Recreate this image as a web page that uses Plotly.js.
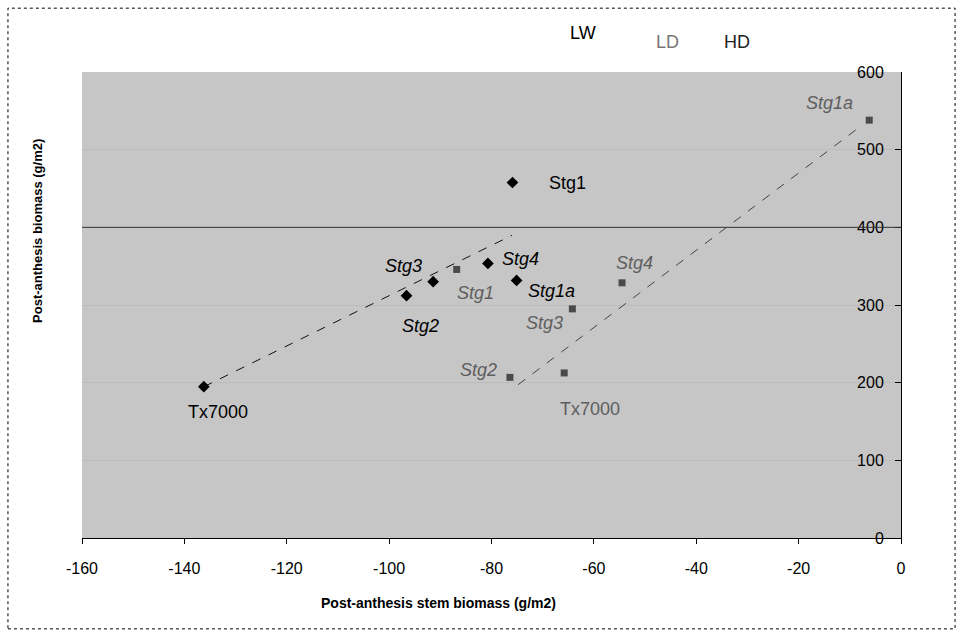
<!DOCTYPE html>
<html>
<head>
<meta charset="utf-8">
<script src="https://cdn.plot.ly/plotly-3.0.1.min.js"></script>
<style>html,body{margin:0;padding:0;background:#fff;}#chart{width:962px;height:637px;}</style>
</head>
<body>
<div id="chart"></div>
<script>
// ---- data ----
const lwLabels = ["Tx7000", "Stg2", "Stg3", "Stg4", "Stg1a", "Stg1"];
const lwX = [-136.2, -96.6, -91.4, -80.7, -75.1, -75.9];
const lwY = [194.8, 312, 330, 353.5, 331.6, 457.7];

const ldLabels = ["Stg1a", "Stg4", "Stg3", "Stg2", "Tx7000", "Stg1"];
const ldX = [-6.2, -54.5, -64.2, -76.4, -65.8, -86.8];
const ldY = [538, 328.6, 295, 206.8, 212.5, 345.8];

const lwTrendX = [-136.2, -76.0];
const lwTrendY = [194.8, 389.7];
const ldTrendX = [-74.8, -7.6];
const ldTrendY = [197.4, 531.6];

const seriesNames = ["LW", "LD", "HD"];
const xTicks = [-160, -140, -120, -100, -80, -60, -40, -20, 0];
const yTicks = [0, 100, 200, 300, 400, 500, 600];

// ---- label styling (pixel offsets from marker) ----
const lwOff = [[14, 25], [14, 30], [-30, -16], [33, -4], [35, 11], [55, 0]];
const lwItalic = [false, true, true, true, true, false];
const ldOff = [[-40, -17], [12, -20], [-28, 14], [-31, -7], [26, 36], [19, 24]];
const ldItalic = [true, true, true, true, false, true];

const FONT = "Liberation Sans, Arial, sans-serif";

const traces = [
  {x: lwTrendX, y: lwTrendY, mode: "lines", line: {color: "#111", width: 1, dash: "dash"}, hoverinfo: "skip", showlegend: false},
  {x: ldTrendX, y: ldTrendY, mode: "lines", line: {color: "#444", width: 1, dash: "dash"}, hoverinfo: "skip", showlegend: false},
  {x: lwX, y: lwY, mode: "markers", name: seriesNames[0], marker: {symbol: "diamond", color: "#000", size: 9}, showlegend: false},
  {x: ldX, y: ldY, mode: "markers", name: seriesNames[1], marker: {symbol: "square", color: "#4a4a4a", size: 7}, showlegend: false},
  // carrier for the inner y tick labels
  {x: [null], y: [null], yaxis: "y2", mode: "markers", hoverinfo: "skip", showlegend: false}
];

const annotations = [];
lwLabels.forEach((t, i) => annotations.push({
  x: lwX[i], y: lwY[i], xref: "x", yref: "y", text: lwItalic[i] ? "<i>" + t + "</i>" : t,
  showarrow: false, xanchor: "center", yanchor: "middle", xshift: lwOff[i][0], yshift: -lwOff[i][1],
  font: {family: FONT, size: 18, color: "#000"}
}));
ldLabels.forEach((t, i) => annotations.push({
  x: ldX[i], y: ldY[i], xref: "x", yref: "y", text: ldItalic[i] ? "<i>" + t + "</i>" : t,
  showarrow: false, xanchor: "center", yanchor: "middle", xshift: ldOff[i][0], yshift: -ldOff[i][1],
  font: {family: FONT, size: 18, color: "#5e5e5e"}
}));
// legend texts
const legPos = [[0.6117, 1.0837], [0.7143, 1.0644], [0.7998, 1.0644]];
const legCol = ["#000", "#777", "#222"];
seriesNames.forEach((n, i) => annotations.push({
  x: legPos[i][0], y: legPos[i][1], xref: "paper", yref: "paper", text: n, showarrow: false,
  xanchor: "center", yanchor: "middle",
  font: {family: FONT, size: 18, color: legCol[i]}
}));
// axis titles
annotations.push({x: 0.4347, y: -0.1395, xref: "paper", yref: "paper", showarrow: false,
  xanchor: "center", yanchor: "middle",
  text: "<b>Post-anthesis stem biomass (g/m2)</b>", font: {family: FONT, size: 14, color: "#000"}});
annotations.push({x: -0.0537, y: 0.659, xref: "paper", yref: "paper", showarrow: false, textangle: -90,
  xanchor: "center", yanchor: "middle",
  text: "<b>Post-anthesis biomass (g/m2)</b>", font: {family: FONT, size: 13, color: "#000"}});

const layout = {
  width: 962, height: 637,
  margin: {l: 82, r: 61, t: 72, b: 99},
  paper_bgcolor: "#fff",
  plot_bgcolor: "#c6c6c6",
  showlegend: false,
  xaxis: {
    range: [-160, 0], tickvals: xTicks, ticktext: xTicks.map(String),
    showgrid: false, zeroline: false, showline: true, linecolor: "#000", linewidth: 1,
    ticks: "outside", ticklen: 5, tickcolor: "#000", ticklabelstandoff: 11,
    tickfont: {family: FONT, size: 16, color: "#000"}
  },
  yaxis: {
    range: [0, 600], tickvals: yTicks, showticklabels: false,
    side: "right",
    showgrid: true, gridcolor: "#bcbcbc", gridwidth: 1, zeroline: false,
    showline: true, linecolor: "#000", linewidth: 1,
    ticks: "inside", ticklen: 6, tickcolor: "#000"
  },
  yaxis2: {
    overlaying: "y", matches: "y", range: [0, 600], tickvals: yTicks, ticktext: yTicks.map(String),
    side: "left", anchor: "free", position: 0.979,
    showgrid: false, zeroline: false, showline: false, ticks: "",
    tickfont: {family: FONT, size: 16, color: "#000"}
  },
  shapes: [
    {type: "line", xref: "paper", yref: "y", x0: 0, x1: 1, y0: 400, y1: 400, line: {color: "#333", width: 1}},
    {type: "rect", xref: "paper", yref: "paper", x0: -0.0904, x1: 1.066, y0: -0.195, y1: 1.137,
     line: {color: "#000", width: 1, dash: "dot"}, fillcolor: "rgba(0,0,0,0)"}
  ],
  annotations: annotations
};

Plotly.newPlot("chart", traces, layout, {displayModeBar: false, staticPlot: true});
</script>
</body>
</html>
